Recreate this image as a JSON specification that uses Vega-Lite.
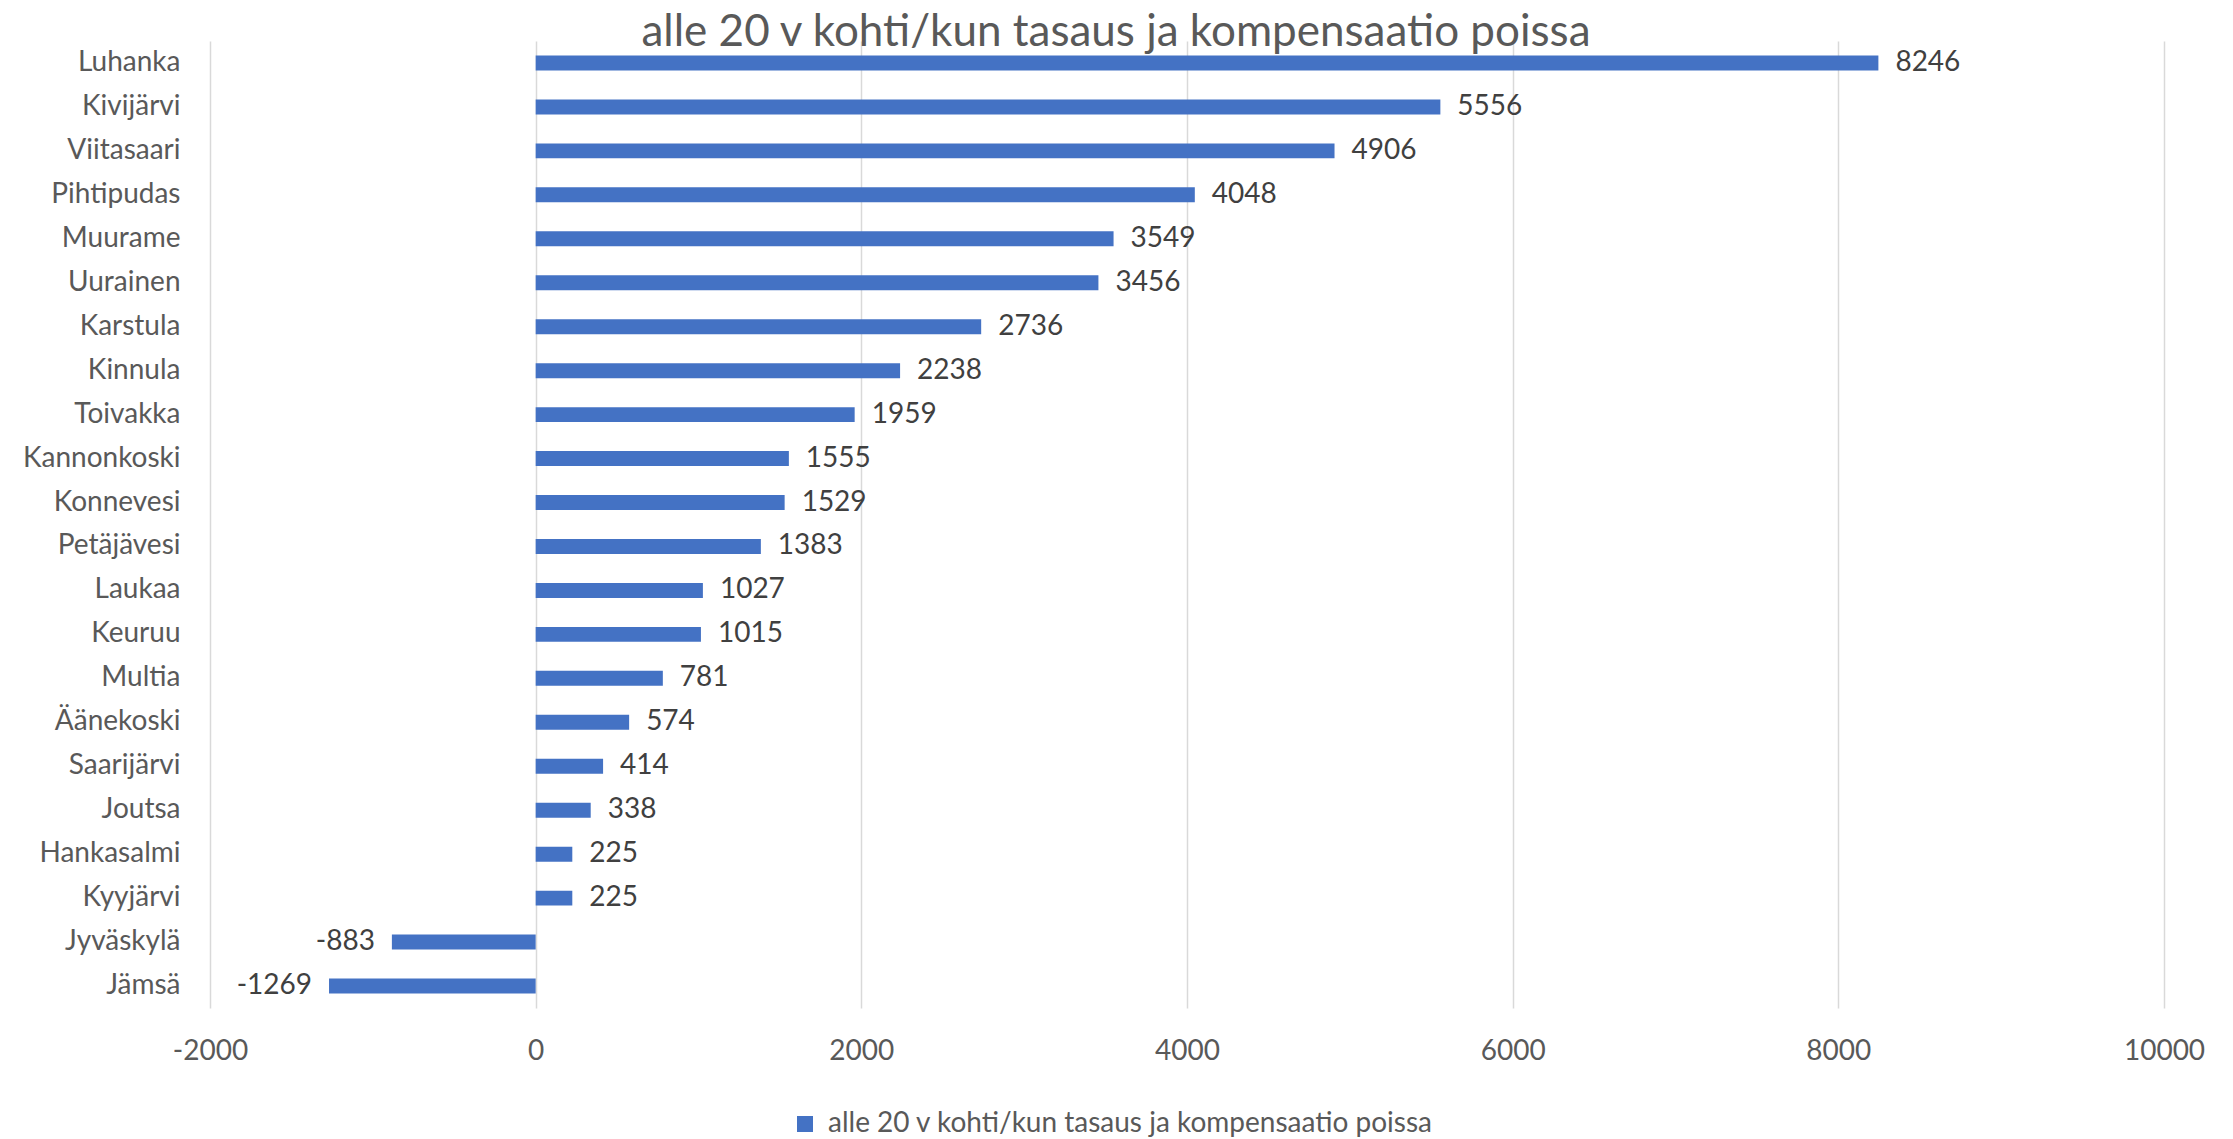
{
  "$schema": "https://vega.github.io/schema/vega-lite/v6.json",
  "autosize": "none",
  "width": 1954,
  "height": 967,
  "padding": {"left": 210, "top": 41, "right": 69, "bottom": 131},
  "background": "white",
  "config": {"view": {"stroke": null}, "font": "Lato"},
  "title": {
    "text": "alle 20 v kohti/kun tasaus ja kompensaatio poissa",
    "font": "Lato",
    "fontSize": 44,
    "fontWeight": "normal",
    "color": "#595959",
    "anchor": "middle",
    "frame": "group",
    "dx": -71,
    "baseline": "alphabetic",
    "offset": -49
  },
  "data": {
    "values": [
      {"kunta": "Luhanka", "value": 8246},
      {"kunta": "Kivijärvi", "value": 5556},
      {"kunta": "Viitasaari", "value": 4906},
      {"kunta": "Pihtipudas", "value": 4048},
      {"kunta": "Muurame", "value": 3549},
      {"kunta": "Uurainen", "value": 3456},
      {"kunta": "Karstula", "value": 2736},
      {"kunta": "Kinnula", "value": 2238},
      {"kunta": "Toivakka", "value": 1959},
      {"kunta": "Kannonkoski", "value": 1555},
      {"kunta": "Konnevesi", "value": 1529},
      {"kunta": "Petäjävesi", "value": 1383},
      {"kunta": "Laukaa", "value": 1027},
      {"kunta": "Keuruu", "value": 1015},
      {"kunta": "Multia", "value": 781},
      {"kunta": "Äänekoski", "value": 574},
      {"kunta": "Saarijärvi", "value": 414},
      {"kunta": "Joutsa\u00a0", "value": 338},
      {"kunta": "Hankasalmi", "value": 225},
      {"kunta": "Kyyjärvi", "value": 225},
      {"kunta": "Jyväskylä", "value": -883},
      {"kunta": "Jämsä", "value": -1269}
    ]
  },
  "encoding": {
    "y": {
      "field": "kunta",
      "type": "nominal",
      "sort": null,
      "title": null,
      "scale": {"paddingInner": 0.66, "paddingOuter": 0.33},
      "axis": {
        "domain": false,
        "ticks": false,
        "grid": false,
        "labelPadding": 30,
        "labelFont": "Lato",
        "labelFontSize": 28,
        "labelColor": "#595959",
        "labelLimit": 400
      }
    },
    "x": {
      "field": "value",
      "type": "quantitative",
      "title": null,
      "scale": {"domain": [-2000, 10000], "nice": false, "zero": false},
      "axis": {
        "values": [-2000, 0, 2000, 4000, 6000, 8000, 10000],
        "labelExpr": "'' + datum.value",
        "labelFlush": false,
        "labelOverlap": false,
        "domain": false,
        "ticks": false,
        "grid": true,
        "gridColor": "#D9D9D9",
        "gridWidth": 1.5,
        "labelPadding": 29,
        "labelFont": "Lato",
        "labelFontSize": 28,
        "labelColor": "#595959"
      }
    }
  },
  "layer": [
    {
      "mark": {"type": "bar"},
      "encoding": {
        "color": {
          "datum": "alle 20 v kohti/kun tasaus ja kompensaatio poissa",
          "type": "nominal",
          "scale": {"range": ["#4472C4"]},
          "legend": {
            "title": null,
            "orient": "none",
            "legendX": 581,
            "legendY": 1069,
            "symbolType": "square",
            "symbolSize": 256,
            "symbolStrokeWidth": 0,
            "labelFont": "Lato",
            "labelFontSize": 28,
            "labelColor": "#595959",
            "labelOffset": 9,
            "labelLimit": 2000
          }
        }
      }
    },
    {
      "transform": [{"filter": "datum.value >= 0"}],
      "mark": {"type": "text", "align": "left", "dx": 17, "font": "Lato", "fontSize": 28, "color": "#404040", "baseline": "middle"},
      "encoding": {"text": {"field": "value", "type": "nominal"}}
    },
    {
      "transform": [{"filter": "datum.value < 0"}],
      "mark": {"type": "text", "align": "right", "dx": -17, "font": "Lato", "fontSize": 28, "color": "#404040", "baseline": "middle"},
      "encoding": {"text": {"field": "value", "type": "nominal"}}
    }
  ]
}
